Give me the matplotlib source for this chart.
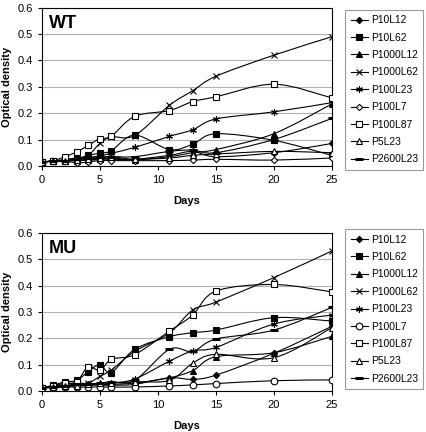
import numpy as np
import matplotlib
matplotlib.use("Agg")
import matplotlib.pyplot as plt
from matplotlib.path import Path
from matplotlib.patches import PathPatch

plt.rcParams['font.family'] = ['Liberation Sans', 'DejaVu Sans']

days = [0, 1, 2, 3, 4, 5, 6, 8, 11, 13, 15, 20, 25]
names = ['P10L12', 'P10L62', 'P1000L12', 'P1000L62', 'P100L23',
         'P100L7', 'P100L87', 'P5L23', 'P2600L23']

# WT optical density
wt_p10l12 = [0.015, 0.018, 0.02, 0.02, 0.022, 0.025, 0.025, 0.025, 0.04, 0.055, 0.035, 0.05, 0.085]
wt_p10l62 = [0.015, 0.018, 0.02, 0.025, 0.04, 0.048, 0.058, 0.117, 0.062, 0.082, 0.122, 0.097, 0.04]
wt_p1000l12 = [0.015, 0.018, 0.02, 0.02, 0.022, 0.025, 0.03, 0.023, 0.035, 0.05, 0.062, 0.122, 0.235]
wt_p1000l62 = [0.015, 0.018, 0.025, 0.03, 0.04, 0.085, 0.11, 0.115, 0.23, 0.285, 0.34, 0.42, 0.49]
wt_p100l23 = [0.015, 0.018, 0.022, 0.028, 0.032, 0.038, 0.048, 0.07, 0.112, 0.137, 0.178, 0.205, 0.24]
wt_p100l7 = [0.015, 0.018, 0.018, 0.012, 0.015, 0.02, 0.02, 0.02, 0.02, 0.022, 0.025, 0.022, 0.03]
wt_p100l87 = [0.015, 0.02, 0.035, 0.053, 0.078, 0.103, 0.113, 0.188, 0.21, 0.244, 0.262, 0.31, 0.258]
wt_p5l23 = [0.015, 0.018, 0.02, 0.022, 0.025, 0.03, 0.035, 0.025, 0.03, 0.04, 0.045, 0.055, 0.05]
wt_p2600l23 = [0.015, 0.018, 0.02, 0.025, 0.03, 0.032, 0.035, 0.035, 0.055, 0.06, 0.05, 0.1, 0.18]

# MU optical density
mu_p10l12 = [0.012, 0.015, 0.018, 0.02, 0.022, 0.022, 0.022, 0.025, 0.05, 0.044, 0.06, 0.143, 0.245]
mu_p10l62 = [0.012, 0.022, 0.035, 0.04, 0.073, 0.1, 0.07, 0.158, 0.206, 0.221, 0.231, 0.278, 0.265]
mu_p1000l12 = [0.012, 0.015, 0.018, 0.02, 0.022, 0.025, 0.025, 0.03, 0.05, 0.077, 0.13, 0.145, 0.207]
mu_p1000l62 = [0.012, 0.018, 0.025, 0.03, 0.03, 0.055, 0.08, 0.15, 0.22, 0.307, 0.337, 0.43, 0.531]
mu_p100l23 = [0.012, 0.015, 0.02, 0.025, 0.025, 0.025, 0.03, 0.045, 0.113, 0.152, 0.165, 0.254, 0.288]
mu_p100l7 = [0.012, 0.012, 0.015, 0.015, 0.015, 0.015, 0.015, 0.015, 0.019, 0.023, 0.028, 0.039, 0.042]
mu_p100l87 = [0.012, 0.02, 0.03, 0.035, 0.092, 0.078, 0.12, 0.138, 0.227, 0.288, 0.379, 0.404, 0.376]
mu_p5l23 = [0.012, 0.015, 0.02, 0.02, 0.025, 0.03, 0.03, 0.035, 0.04, 0.105, 0.139, 0.126, 0.24]
mu_p2600l23 = [0.012, 0.015, 0.02, 0.025, 0.025, 0.03, 0.035, 0.04, 0.158, 0.15, 0.197, 0.231, 0.317]

wt = [wt_p10l12, wt_p10l62, wt_p1000l12, wt_p1000l62, wt_p100l23,
      wt_p100l7, wt_p100l87, wt_p5l23, wt_p2600l23]
mu = [mu_p10l12, mu_p10l62, mu_p1000l12, mu_p1000l62, mu_p100l23,
      mu_p100l7, mu_p100l87, mu_p5l23, mu_p2600l23]

# marker, size, filled
styles = [('D', 3.2, True), ('s', 4.2, True), ('^', 4.2, True), ('x', 4.2, False),
          ((6, 2, 0), 4.8, False), ('D', 3.2, False), ('s', 4.2, False), ('^', 4.2, False),
          ('_', 5.5, False)]


def smooth_path(x, y):
    # Excel-style smoothed line as cubic bezier segments
    pts = np.column_stack([np.asarray(x, float), np.asarray(y, float)])
    n = len(pts)
    verts = [pts[0]]
    codes = [Path.MOVETO]
    for i in range(n - 1):
        p0 = pts[i - 1] if i > 0 else pts[i]
        p1 = pts[i]
        p2 = pts[i + 1]
        p3 = pts[i + 2] if i + 2 < n else pts[i + 1]
        verts += [p1 + (p2 - p0) / 6.0, p2 - (p3 - p1) / 6.0, p2]
        codes += [Path.CURVE4] * 3
    return Path(verts, codes)


def marker_kw(i, circle_for_l7):
    m, ms, filled = styles[i]
    if circle_for_l7 and names[i] == 'P100L7':
        m, ms = 'o', 4.8
    kw = dict(marker=m, markersize=ms, color='black', markeredgewidth=0.8)
    if m == '_':
        kw['markeredgewidth'] = 2.2
    elif not filled and m != 'x' and not isinstance(m, tuple):
        kw['markerfacecolor'] = 'white'
    return kw


def draw_panel(ax, series, label, circle_for_l7=False):
    handles = []
    for i, vals in enumerate(series):
        ax.add_patch(PathPatch(smooth_path(days, vals), fill=False,
                               edgecolor='black', lw=0.8, zorder=2))
        ax.plot(days, vals, linestyle='None', zorder=3, **marker_kw(i, circle_for_l7))
        h, = ax.plot([], [], lw=0.8, **marker_kw(i, circle_for_l7))
        handles.append(h)

    ax.set_xlim(0, 25)
    ax.set_ylim(0, 0.6)
    ax.set_xticks([0, 5, 10, 15, 20, 25])
    yt = np.arange(0, 0.61, 0.1)
    ax.set_yticks(yt)
    ax.set_yticklabels([f'{v:.1f}' for v in yt])
    ax.yaxis.grid(True, color='#b0b0b0', lw=0.8)
    ax.set_axisbelow(True)
    ax.tick_params(labelsize=8, length=3, width=0.8, direction='out')
    for s in ax.spines.values():
        s.set_linewidth(0.8)
    ax.set_xlabel('Days', fontsize=8, fontweight='bold', labelpad=8)
    ax.set_ylabel('Optical density', fontsize=8, fontweight='bold', labelpad=4)
    ax.text(0.025, 0.955, label, transform=ax.transAxes, fontsize=13,
            fontweight='bold', va='top', ha='left')
    return handles


fig = plt.figure(figsize=(4.27, 4.32), dpi=100)
ax1 = fig.add_axes([0.098, 0.616, 0.679, 0.366])
ax2 = fig.add_axes([0.098, 0.095, 0.679, 0.366])

h1 = draw_panel(ax1, wt, 'WT')
h2 = draw_panel(ax2, mu, 'MU', circle_for_l7=True)

for h, top in ((h1, 0.978), (h2, 0.47)):
    leg = fig.legend(h, names, loc='upper left', bbox_to_anchor=(0.808, top),
                     fontsize=7.4, frameon=True, fancybox=False, handlelength=1.7,
                     handletextpad=0.25, labelspacing=0.72, borderpad=0.55,
                     borderaxespad=0)
    leg.get_frame().set_edgecolor('#808080')
    leg.get_frame().set_linewidth(0.8)

fig.savefig('out.png', dpi=100)
